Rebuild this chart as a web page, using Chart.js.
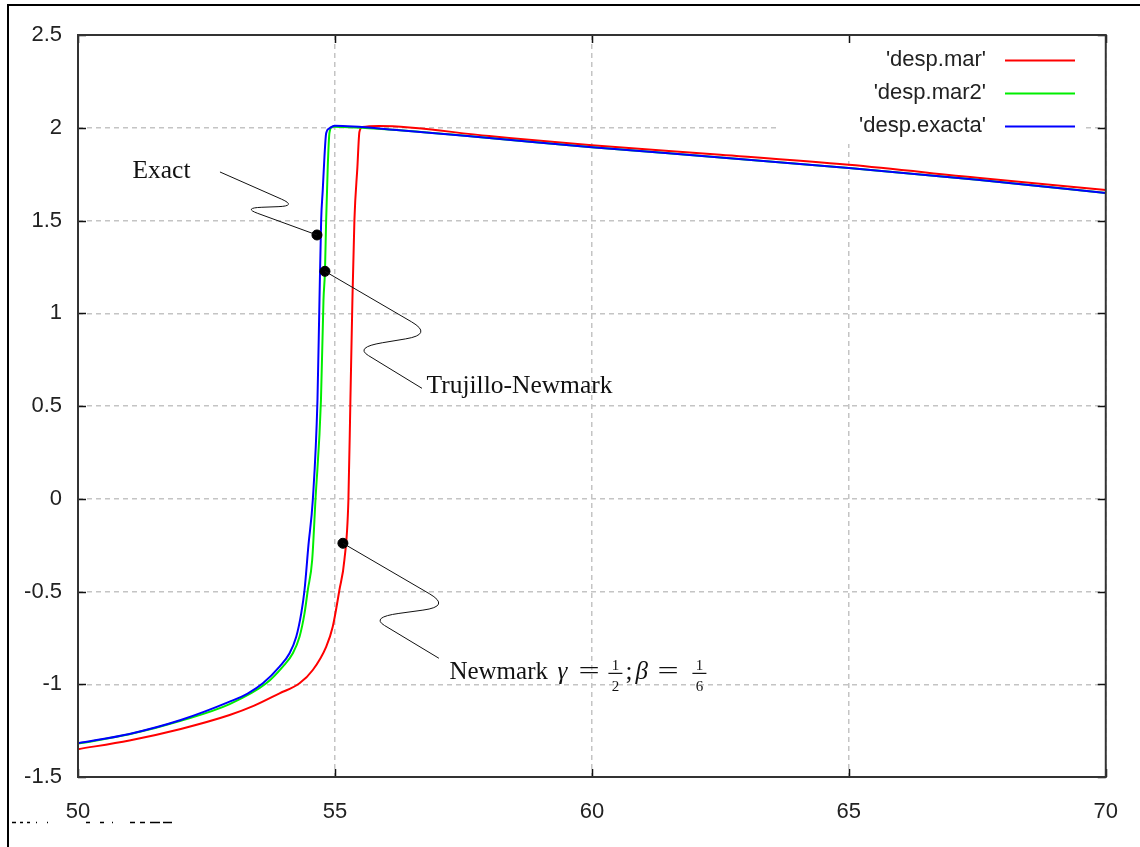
<!DOCTYPE html>
<html>
<head>
<meta charset="utf-8">
<script src="https://cdn.jsdelivr.net/npm/chart.js@4"></script>
<style>
  html, body { margin: 0; padding: 0; background: #fff; }
  canvas { display: block; }
</style>
</head>
<body>
<canvas id="desp" width="1140" height="847"></canvas>
<script>
// desplazamiento vs tiempo: Newmark, Trujillo-Newmark y solución exacta
const xTicks = [50, 55, 60, 65, 70];
const yTicks = [-1.5, -1, -0.5, 0, 0.5, 1, 1.5, 2, 2.5];

const marX = [50, 51, 52, 52.951, 53.417, 53.922, 54.311, 54.569, 54.829, 54.957, 55.087, 55.184, 55.262, 55.301, 55.340, 55.379, 55.437, 55.476, 55.534, 55.86, 58, 60, 62.5, 65, 67.5, 70];
const marY = [-1.35, -1.303, -1.241, -1.166, -1.117, -1.049, -0.995, -0.923, -0.798, -0.690, -0.492, -0.330, -0.007, 0.532, 1.071, 1.503, 1.788, 1.977, 2.004, 2.01, 1.955, 1.906, 1.855, 1.80, 1.73, 1.664];

const mar2X = [50, 51, 52, 52.951, 53.664, 53.986, 54.181, 54.311, 54.408, 54.472, 54.557, 54.621, 54.728, 54.777, 54.806, 54.829, 54.860, 54.893, 54.951, 56.2, 58, 60, 62.5, 65, 67.5, 70];
const mar2Y = [-1.32, -1.27, -1.197, -1.107, -0.995, -0.905, -0.833, -0.744, -0.618, -0.492, -0.330, -0.007, 0.532, 1.071, 1.228, 1.503, 1.790, 1.972, 2.006, 1.988, 1.945, 1.895, 1.84, 1.783, 1.72, 1.648];

const exactaX = [50, 51, 52, 52.951, 53.301, 53.598, 53.922, 54.117, 54.247, 54.344, 54.408, 54.485, 54.569, 54.660, 54.699, 54.732, 54.763, 54.796, 54.829, 54.893, 54.990, 56.2, 58, 60, 62.5, 65, 67.5, 70];
const exactaY = [-1.318, -1.268, -1.193, -1.094, -1.050, -0.995, -0.905, -0.833, -0.744, -0.618, -0.492, -0.249, -0.007, 0.532, 1.071, 1.503, 1.665, 1.844, 1.970, 1.997, 2.011, 1.988, 1.945, 1.895, 1.84, 1.783, 1.72, 1.648];

// puntos marcados sobre las curvas
const markX = [54.65, 54.806, 55.155];
const markY = [1.422, 1.226, -0.24];

const pts = (xs, ys) => xs.map((x, i) => ({ x, y: ys[i] }));

const SANS = '"Liberation Sans", Arial, sans-serif';
const SERIF = '"Liberation Serif", "Times New Roman", serif';
const INK = '#222';

// marco exterior, bordes, ticks hacia dentro y leyenda al estilo gnuplot
const gnuplotFrame = {
  id: 'gnuplotFrame',
  beforeDatasetsDraw(chart) {
    const { ctx, chartArea: a } = chart;
    // caja de la leyenda tapa la rejilla
    ctx.save();
    ctx.fillStyle = '#fff';
    ctx.fillRect(780, a.top + 1, 306, 108);
    ctx.restore();
  },
  afterDatasetsDraw(chart) {
    const { ctx, chartArea: a, scales } = chart;
    ctx.save();
    ctx.strokeStyle = '#111';
    ctx.lineWidth = 1.5;
    ctx.beginPath();
    xTicks.forEach(v => {
      const px = Math.round(scales.x.getPixelForValue(v)) + 0.5;
      ctx.moveTo(px, a.bottom); ctx.lineTo(px, a.bottom - 8);
      ctx.moveTo(px, a.top); ctx.lineTo(px, a.top + 8);
    });
    yTicks.forEach(v => {
      const py = Math.round(scales.y.getPixelForValue(v)) + 0.5;
      ctx.moveTo(a.left, py); ctx.lineTo(a.left + 8, py);
      ctx.moveTo(a.right, py); ctx.lineTo(a.right - 8, py);
    });
    ctx.stroke();
    ctx.strokeStyle = '#333';
    ctx.lineWidth = 2;
    ctx.strokeRect(a.left, a.top, a.right - a.left, a.bottom - a.top);

    // leyenda
    ctx.font = '22px ' + SANS;
    ctx.textAlign = 'right';
    ctx.textBaseline = 'middle';
    chart.data.datasets.filter(d => d.inKey).forEach((d, i) => {
      const y = 60 + i * 33;
      ctx.fillStyle = INK;
      ctx.fillText(d.label, 986, y);
      ctx.strokeStyle = d.borderColor;
      ctx.lineWidth = 2;
      ctx.beginPath();
      ctx.moveTo(1005, y + 0.5); ctx.lineTo(1075, y + 0.5);
      ctx.stroke();
    });
    ctx.restore();
  },
  afterDraw(chart) {
    const { ctx } = chart;
    ctx.save();
    ctx.strokeStyle = '#000';
    ctx.lineWidth = 2;
    ctx.beginPath();
    ctx.moveTo(8, 847); ctx.lineTo(8, 5); ctx.lineTo(1140, 5);
    ctx.stroke();
    // restos de texto cortado abajo a la izquierda
    ctx.lineWidth = 1.5;
    ctx.beginPath();
    [[12, 16], [20, 23], [27, 30], [36, 37], [47, 48], [86, 90], [100, 104], [112, 113],
     [130, 135], [140, 145], [150, 160], [163, 172]].forEach(([s, e]) => {
      ctx.moveTo(s, 822.5); ctx.lineTo(e, 822.5);
    });
    ctx.stroke();
    ctx.restore();
  }
};

// etiquetas con líneas en S hacia los puntos marcados
function sLeader(ctx, p0, p1, p2, p3) {
  const lerp = (a, b, t) => [a[0] + (b[0] - a[0]) * t, a[1] + (b[1] - a[1]) * t];
  const a = lerp(p0, p1, 0.8), b = lerp(p1, p2, 0.35), c = lerp(p1, p2, 0.65), d = lerp(p2, p3, 0.2);
  ctx.beginPath();
  ctx.moveTo(p0[0], p0[1]);
  ctx.lineTo(a[0], a[1]);
  ctx.quadraticCurveTo(p1[0], p1[1], b[0], b[1]);
  ctx.lineTo(c[0], c[1]);
  ctx.quadraticCurveTo(p2[0], p2[1], d[0], d[1]);
  ctx.lineTo(p3[0], p3[1]);
  ctx.stroke();
}

// fracción pequeña centrada en cx, con la línea de base del texto en base
function frac(ctx, num, den, cx, base) {
  ctx.save();
  ctx.font = '15px ' + SERIF;
  ctx.textAlign = 'center';
  ctx.textBaseline = 'alphabetic';
  ctx.fillText(num, cx, base - 9);
  ctx.fillText(den, cx, base + 12);
  ctx.fillRect(cx - 7, base - 6.5, 14, 1.2);
  ctx.restore();
}

// signo igual algo más ancho, como en las fórmulas
function wideEq(ctx, x, base) {
  ctx.save();
  ctx.translate(x, base);
  ctx.scale(1.5, 1);
  ctx.fillText('=', 0, 0);
  ctx.restore();
}

const annotations = {
  id: 'annotations',
  afterDatasetsDraw(chart) {
    const { ctx, scales } = chart;
    const dot = i => [scales.x.getPixelForValue(markX[i]), scales.y.getPixelForValue(markY[i])];
    const off = (p, dx, dy) => [p[0] + dx, p[1] + dy];
    ctx.save();
    ctx.strokeStyle = '#111';
    ctx.lineWidth = 1;
    ctx.fillStyle = '#111';
    ctx.font = '25.5px ' + SERIF;
    ctx.textBaseline = 'alphabetic';
    ctx.textAlign = 'left';

    const e = dot(0);
    sLeader(ctx, e, off(e, -74, -27), off(e, -20, -29), off(e, -97, -63));
    ctx.fillText('Exact', e[0] - 184.5, e[1] - 57);

    const t = dot(1);
    sLeader(ctx, t, off(t, 108, 63), off(t, 30, 76), off(t, 97, 117));
    ctx.fillText('Trujillo-Newmark', t[0] + 101.5, t[1] + 122);

    const n = dot(2);
    sLeader(ctx, n, off(n, 108, 63), off(n, 28, 74), off(n, 96, 115));
    const x0 = n[0] + 106.5;
    const base = n[1] + 136;
    ctx.font = '25px ' + SERIF;
    ctx.fillText('Newmark', x0, base);
    ctx.font = 'italic 25px ' + SERIF;
    ctx.fillText('γ', x0 + 108, base);
    ctx.fillText('β', x0 + 186, base);
    ctx.font = '25px ' + SERIF;
    wideEq(ctx, x0 + 129, base);
    frac(ctx, '1', '2', x0 + 166, base);
    ctx.fillText(';', x0 + 176, base);
    wideEq(ctx, x0 + 208, base);
    frac(ctx, '1', '6', x0 + 250, base);
    ctx.restore();
  }
};

new Chart(document.getElementById('desp'), {
  type: 'line',
  data: {
    datasets: [
      { label: "'desp.mar'", data: pts(marX, marY), borderColor: '#ff0000', inKey: true, order: 3 },
      { label: "'desp.mar2'", data: pts(mar2X, mar2Y), borderColor: '#00ee00', inKey: true, order: 2 },
      { label: "'desp.exacta'", data: pts(exactaX, exactaY), borderColor: '#0000ff', inKey: true, order: 1 },
      { label: 'marcas', data: pts(markX, markY), showLine: false, pointRadius: 5,
        pointBackgroundColor: '#000', pointBorderColor: '#000', order: 0 }
    ]
  },
  options: {
    responsive: false,
    animation: false,
    layout: { padding: { top: 35, right: 32, left: 0, bottom: 0 } },
    elements: {
      line: { borderWidth: 2, cubicInterpolationMode: 'monotone', fill: false },
      point: { radius: 0, hoverRadius: 0 }
    },
    plugins: { legend: { display: false }, tooltip: { enabled: false } },
    scales: {
      x: {
        type: 'linear', min: 50, max: 70,
        afterBuildTicks: s => { s.ticks = xTicks.map(v => ({ value: v })); },
        afterFit: s => { s.height = 70; },
        ticks: { color: INK, font: { family: SANS, size: 22 }, padding: 22, callback: v => String(v) },
        grid: { color: '#c4c4c4', lineWidth: 1.5, drawTicks: false },
        border: { display: false, dash: [5, 4] }
      },
      y: {
        type: 'linear', min: -1.5, max: 2.5,
        afterBuildTicks: s => { s.ticks = yTicks.map(v => ({ value: v })); },
        afterFit: s => { s.width = 78; },
        ticks: { color: INK, font: { family: SANS, size: 22 }, padding: 16, callback: v => String(v) },
        grid: { color: '#c4c4c4', lineWidth: 1.5, drawTicks: false },
        border: { display: false, dash: [5, 4] }
      }
    }
  },
  plugins: [gnuplotFrame, annotations]
});
</script>
</body>
</html>
